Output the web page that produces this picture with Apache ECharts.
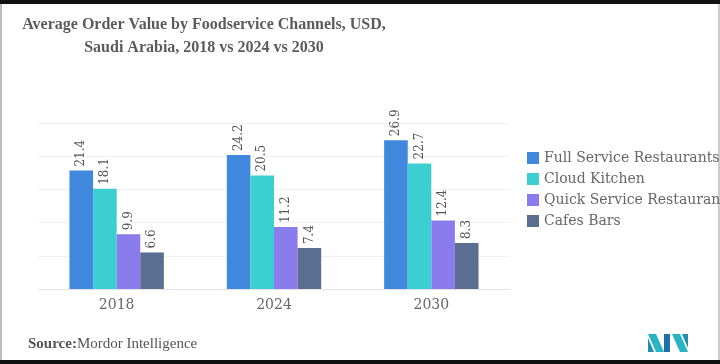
<!DOCTYPE html>
<html><head><meta charset="utf-8">
<script src="https://cdn.jsdelivr.net/npm/echarts@6/dist/echarts.min.js"></script>
<style>html,body{margin:0;padding:0;background:#fff}#c{width:720px;height:364px}</style>
</head><body><div id="c"></div>
<script>
var categories = ['2018', '2024', '2030'];
var seriesNames = ['Full Service Restaurants', 'Cloud Kitchen', 'Quick Service Restaurants', 'Cafes Bars'];
var fullService = [21.4, 24.2, 26.9];
var cloudKitchen = [18.1, 20.5, 22.7];
var quickService = [9.9, 11.2, 12.4];
var cafesBars = [6.6, 7.4, 8.3];
var colors = ['#3f88de', '#3ccfd1', '#8b7cee', '#5a6e8f'];
var values = [fullService, cloudKitchen, quickService, cafesBars];

var serif = '"DejaVu Serif", serif';
var tserif = '"Liberation Serif", serif';
var chart = echarts.init(document.getElementById('c'));
chart.setOption({
  animation: false,
  title: {
    text: 'Average Order Value by Foodservice Channels, USD,\nSaudi Arabia, 2018 vs 2024 vs 2030',
    left: 199, top: 8, textAlign: 'center',
    textStyle: { fontFamily: tserif, fontWeight: 'bold', fontSize: 16, color: '#5b5b5b', lineHeight: 23 }
  },
  legend: {
    orient: 'vertical', left: 522, top: 146, itemWidth: 12, itemHeight: 12, itemGap: 7,
    icon: 'rect',
    textStyle: { fontFamily: serif, fontSize: 14, color: '#666' },
    data: seriesNames
  },
  grid: { left: 38, right: 210, top: 123, bottom: 75 },
  xAxis: {
    type: 'category', data: categories,
    axisLine: { lineStyle: { color: '#e4e4e4' } }, axisTick: { show: false },
    axisLabel: { fontFamily: serif, fontSize: 14, color: '#666', margin: 9 }
  },
  yAxis: {
    type: 'value', min: 0, max: 30, interval: 6,
    axisLabel: { show: false }, axisLine: { show: false }, axisTick: { show: false },
    splitLine: { lineStyle: { color: '#f0f0f0' } }
  },
  series: values.map(function (v, i) {
    return {
      name: seriesNames[i], type: 'bar', data: v, barGap: '0%', barCategoryGap: '40%',
      itemStyle: { color: colors[i] },
      label: { show: true, position: 'top', rotate: 90, align: 'left', verticalAlign: 'middle', distance: 4,
        fontFamily: serif, fontSize: 12, color: '#555' }
    };
  }),
  graphic: [
    { type: 'rect', shape: { x: 0, y: 0, width: 720, height: 4 }, style: { fill: '#111' } },
    { type: 'rect', shape: { x: 0, y: 360, width: 720, height: 4 }, style: { fill: '#111' } },
    { type: 'rect', shape: { x: 0, y: 4, width: 2, height: 356 }, style: { fill: '#bbb' } },
    { type: 'rect', shape: { x: 718, y: 4, width: 2, height: 356 }, style: { fill: '#ccc' } },
    { type: 'text', left: 28, top: 337, style: {
      text: '{b|Source:}{n|Mordor Intelligence}',
      rich: { b: { fontFamily: tserif, fontWeight: 'bold', fontSize: 15, fill: '#555' },
              n: { fontFamily: tserif, fontSize: 15, fill: '#555' } } } },
    { type: 'polygon', shape: { points: [[648,334],[656,334],[664,352],[656,352]] }, style: { fill: '#2ab3c4' } },
    { type: 'polygon', shape: { points: [[648,338],[654,352],[648,352]] }, style: { fill: '#1d8fb0' } },
    { type: 'polygon', shape: { points: [[664,334],[670,334],[670,352],[664,352]] }, style: { fill: '#1f6fa8' } },
    { type: 'polygon', shape: { points: [[672,334],[680,334],[688,352],[680,352]] }, style: { fill: '#2ab3c4' } },
    { type: 'polygon', shape: { points: [[682,334],[688,334],[688,348]] }, style: { fill: '#1d8fb0' } }
  ]
});
</script></body></html>
